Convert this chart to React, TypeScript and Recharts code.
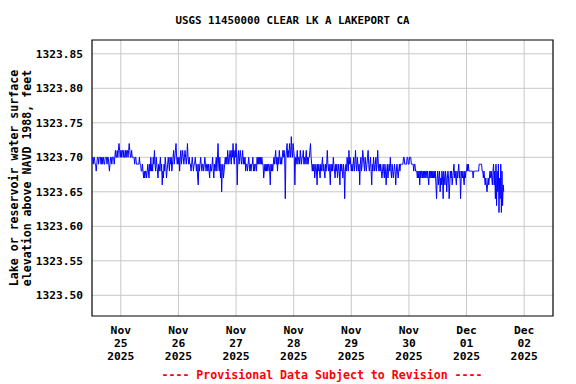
import {
  LineChart,
  Line,
  XAxis,
  YAxis,
  CartesianGrid,
  ReferenceArea,
} from "recharts";

// gage height readings, 15-minute interval, in hundredths of a foot above 1323 ft
const BASE_FT = 1323;
const nov24 = [
  70, 70, 69, 70, 70, 69, 69, 68, 69, 70, 70, 69, 70, 70, 70, 69, 70, 69, 70, 70,
  69, 69, 70, 70, 70, 69, 70, 70, 69, 68, 69, 70, 70, 69, 70, 70, 70, 69, 70, 71,
  70, 70, 71, 70, 71, 72, 71, 70,
];
const nov25 = [
  71, 70, 71, 71, 70, 71, 70, 70, 71, 70, 71, 71, 70, 71, 72, 71, 70, 70, 71, 70,
  70, 70, 70, 69, 70, 70, 69, 69, 69, 69, 69, 70, 69, 69, 68, 68, 69, 68, 67, 68,
  67, 68, 68, 67, 68, 69, 68, 67, 69, 68, 70, 68, 69, 68, 70, 69, 71, 69, 68, 70,
  69, 68, 67, 69, 68, 69, 70, 68, 69, 66, 68, 67, 69, 68, 70, 69, 67, 68, 69, 70,
  69, 68, 70, 69, 70, 68, 69, 70, 71, 69, 70, 71, 72, 70, 69, 70,
];
const nov26 = [
  69, 70, 68, 70, 71, 69, 70, 71, 70, 69, 70, 71, 70, 69, 70, 72, 70, 69, 70, 69,
  69, 68, 69, 70, 69, 68, 69, 69, 70, 69, 68, 69, 67, 66, 69, 68, 69, 70, 69, 68,
  69, 69, 68, 69, 70, 69, 68, 69, 69, 68, 69, 68, 67, 69, 68, 68, 69, 70, 68, 67,
  69, 68, 69, 70, 68, 70, 72, 69, 68, 70, 67, 69, 65, 68, 69, 67, 68, 69, 70, 69,
  70, 69, 71, 70, 69, 70, 71, 70, 69, 71, 70, 72, 70, 69, 71, 70,
];
const nov27 = [
  72, 70, 66, 70, 71, 69, 70, 71, 70, 69, 70, 71, 69, 70, 69, 70, 68, 69, 69, 68,
  69, 70, 69, 68, 69, 68, 69, 69, 70, 68, 69, 68, 69, 69, 68, 70, 69, 70, 69, 70,
  69, 70, 69, 70, 69, 69, 67, 68, 69, 68, 69, 68, 69, 68, 69, 69, 68, 66, 69, 68,
  69, 68, 69, 70, 69, 70, 71, 69, 70, 68, 70, 69, 71, 70, 69, 70, 69, 70, 71, 70,
  71, 70, 64, 70, 71, 72, 70, 71, 70, 72, 71, 70, 73, 71, 70, 72,
];
const nov28 = [
  71, 70, 66, 70, 69, 70, 71, 69, 70, 70, 69, 71, 70, 69, 70, 70, 71, 69, 70, 69,
  70, 71, 69, 70, 69, 70, 70, 71, 72, 70, 69, 68, 69, 68, 69, 67, 68, 69, 68, 66,
  69, 68, 69, 68, 67, 69, 68, 69, 70, 68, 69, 68, 67, 69, 68, 69, 71, 69, 68, 69,
  68, 66, 69, 68, 69, 68, 70, 69, 68, 67, 69, 68, 69, 67, 68, 69, 68, 66, 69, 68,
  69, 68, 67, 69, 68, 64, 68, 69, 68, 70, 69, 68, 71, 69, 70, 69,
];
const nov29 = [
  68, 69, 68, 69, 70, 68, 69, 71, 69, 68, 70, 69, 68, 69, 66, 69, 70, 68, 69, 71,
  70, 69, 68, 70, 69, 68, 69, 70, 71, 69, 68, 69, 70, 68, 66, 69, 68, 70, 69, 68,
  69, 70, 68, 69, 71, 69, 68, 69, 68, 69, 68, 67, 68, 69, 68, 67, 69, 68, 66, 68,
  69, 67, 68, 69, 68, 70, 68, 67, 69, 68, 67, 68, 69, 68, 66, 68, 69, 68, 67, 68,
  69, 68, 69, 69, 69, 69, 69, 70, 70, 69, 69, 69, 69, 70, 70, 69,
];
const nov30 = [
  69, 70, 70, 70, 69, 69, 69, 69, 68, 69, 69, 68, 68, 68, 67, 68, 67, 68, 66, 68,
  67, 68, 68, 67, 68, 67, 68, 67, 68, 68, 67, 68, 67, 66, 68, 67, 68, 67, 68, 67,
  68, 67, 68, 67, 68, 66, 64, 67, 68, 66, 67, 68, 65, 67, 66, 68, 67, 64, 68, 67,
  66, 68, 67, 65, 67, 68, 67, 64, 66, 68, 67, 68, 66, 67, 68, 69, 67, 68, 67, 66,
  68, 67, 68, 69, 67, 68, 64, 67, 68, 67, 68, 67, 66, 68, 67, 68,
];
const dec01 = [
  68, 69, 68, 69, 68, 68, 68, 68, 68, 68, 68, 67, 68, 68, 68, 68, 68, 68, 68, 68,
  68, 69, 69, 69, 69, 69, 68, 68, 67, 68, 67, 66, 67, 66, 65, 66, 67, 66, 67, 68,
  67, 68, 67, 66, 68, 69, 66, 68, 64, 69, 63, 68, 65, 69, 62, 67, 64, 69, 62, 68,
  63, 66, 65,
];

// hours since Nov 24 12:00
const dayTicks = [12, 36, 60, 84, 108, 132, 156, 180];
const tickMonth = ["Nov", "Nov", "Nov", "Nov", "Nov", "Nov", "Dec", "Dec"];
const tickDay = ["25", "26", "27", "28", "29", "30", "01", "02"];
const tickYear = "2025";
const yTicks = [1323.5, 1323.55, 1323.6, 1323.65, 1323.7, 1323.75, 1323.8, 1323.85];

const readings = [nov24, nov25, nov26, nov27, nov28, nov29, nov30, dec01].flat();
const data = readings.map((v, i) => ({ t: i * 0.25, elev: BASE_FT + v / 100 }));

const FONT = "'DejaVu Sans Mono', monospace";

const YTick = ({ x, y, payload }: any) => (
  <text
    x={x - 1}
    y={y + 4}
    textAnchor="end"
    fontFamily={FONT}
    fontWeight="bold"
    fontSize={11.2}
    fill="#000"
  >
    {payload.value.toFixed(2)}
  </text>
);

const XTick = ({ x, y, payload }: any) => {
  const idx = dayTicks.indexOf(payload.value);
  return (
    <g fontFamily={FONT} fontWeight="bold" fontSize={11.3} fill="#000">
      <text x={x} y={y + 10} textAnchor="middle">
        {tickMonth[idx]}
      </text>
      <text x={x} y={y + 23} textAnchor="middle">
        {tickDay[idx]}
      </text>
      <text x={x} y={y + 36} textAnchor="middle">
        {tickYear}
      </text>
    </g>
  );
};

export default function App() {
  return (
    <div
      style={{
        position: "absolute",
        left: 0,
        top: 0,
        width: 576,
        height: 384,
        background: "#fff",
      }}
    >
      <LineChart
        width={576}
        height={384}
        data={data}
        margin={{ top: 40, right: 23, bottom: 0, left: 0 }}
      >
        <CartesianGrid stroke="#c8c8c8" horizontalValues={yTicks} verticalValues={dayTicks} />
        <XAxis
          dataKey="t"
          type="number"
          domain={[0, 192]}
          ticks={dayTicks}
          tick={<XTick />}
          tickLine={false}
          axisLine={false}
          height={68}
          interval={0}
        />
        <YAxis
          type="number"
          domain={[1323.47, 1323.87]}
          ticks={yTicks}
          tick={<YTick />}
          tickLine={false}
          axisLine={false}
          width={92}
          interval={0}
          allowDataOverflow
        />
        <Line
          type="linear"
          dataKey="elev"
          stroke="#0000ff"
          strokeWidth={1}
          dot={false}
          isAnimationActive={false}
        />
        <ReferenceArea
          x1={0}
          x2={192}
          y1={1323.47}
          y2={1323.87}
          fill="none"
          stroke="#000"
          strokeWidth={1.2}
          ifOverflow="visible"
        />
      </LineChart>
      <div
        style={{
          position: "absolute",
          left: 0,
          top: 14,
          width: 585,
          textAlign: "center",
          fontFamily: FONT,
          fontWeight: "bold",
          fontSize: 10.8,
          color: "#000",
        }}
      >
        USGS 11450000 CLEAR LK A LAKEPORT CA
      </div>
      <div
        style={{
          position: "absolute",
          left: 0,
          top: 368,
          width: 644,
          textAlign: "center",
          fontFamily: FONT,
          fontWeight: "bold",
          fontSize: 11.6,
          color: "#ff0000",
        }}
      >
        ---- Provisional Data Subject to Revision ----
      </div>
      <div
        style={{
          position: "absolute",
          left: 20,
          top: 178,
          width: 0,
          height: 0,
        }}
      >
        <div
          style={{
            position: "absolute",
            left: 0,
            top: 0,
            transform: "translate(-50%, -50%) rotate(-90deg)",
            whiteSpace: "nowrap",
            textAlign: "center",
            fontFamily: FONT,
            fontWeight: "bold",
            fontSize: 11.6,
            lineHeight: "12.5px",
            color: "#000",
          }}
        >
          Lake or reservoir water surface
          <br />
          elevation above NAVD 1988, feet
        </div>
      </div>
    </div>
  );
}
